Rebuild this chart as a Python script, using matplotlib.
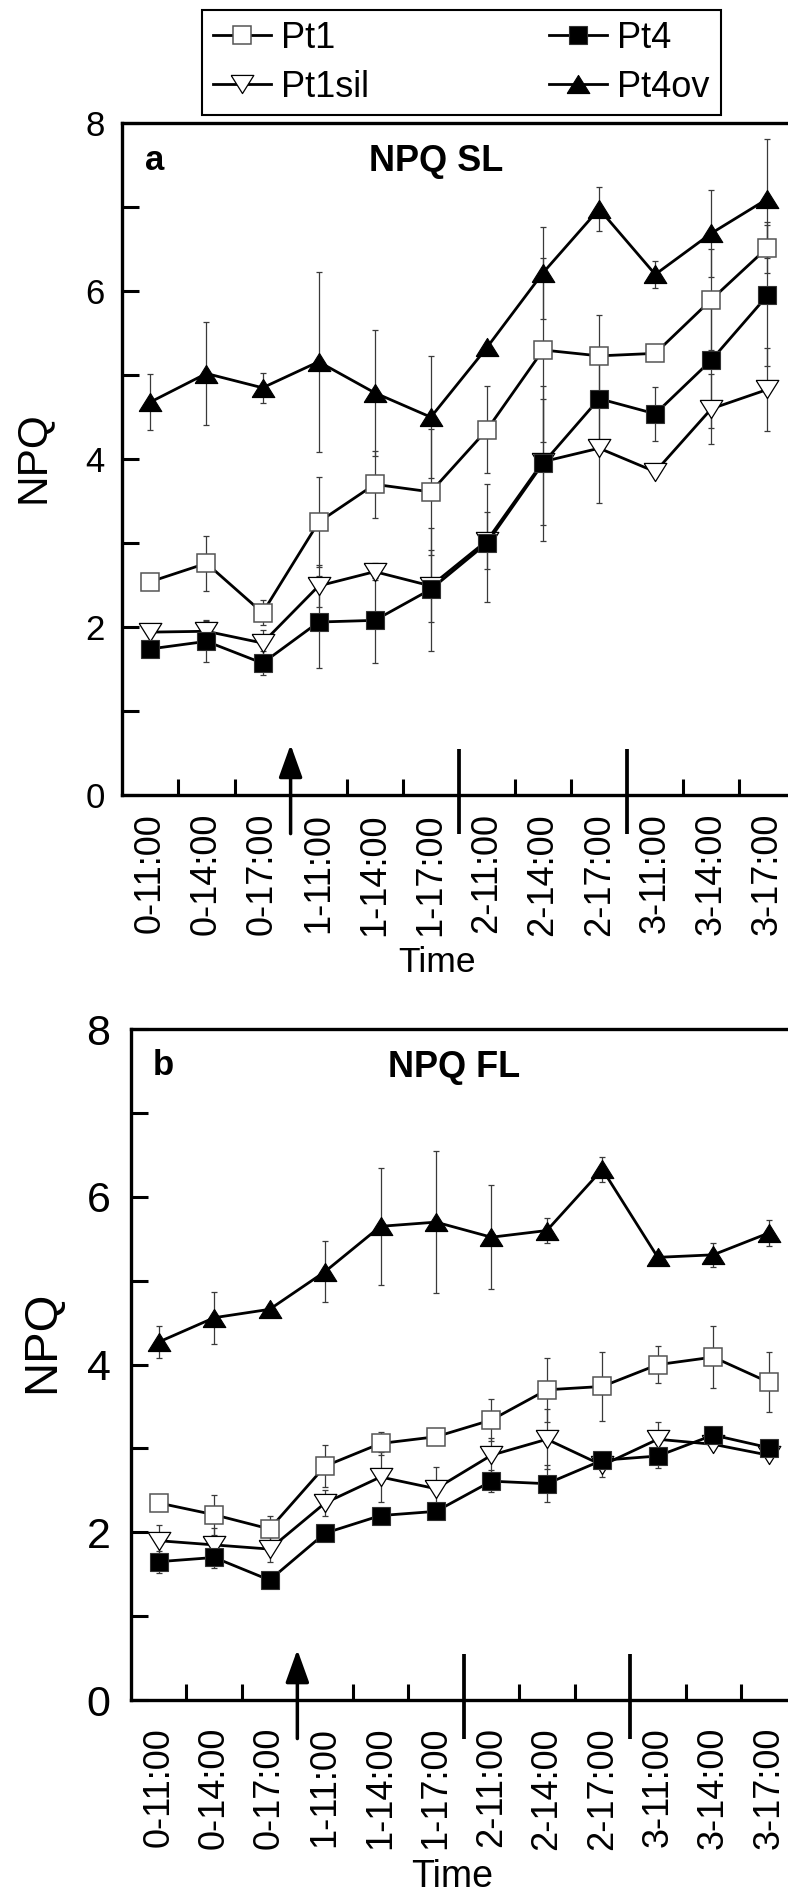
import matplotlib.pyplot as plt
import numpy as np

plt.rcParams['font.family'] = ['Liberation Sans', 'DejaVu Sans']

# sampling times (day-hour)
times = ['0-11:00', '0-14:00', '0-17:00', '1-11:00', '1-14:00', '1-17:00',
         '2-11:00', '2-14:00', '2-17:00', '3-11:00', '3-14:00', '3-17:00']
lines_names = ['Pt1', 'Pt1sil', 'Pt4', 'Pt4ov']

# panel a: NPQ SL
pt1_sl = [2.54, 2.76, 2.17, 3.25, 3.70, 3.61, 4.35, 5.30, 5.23, 5.26, 5.90, 6.52]
pt1_sl_err = [0.05, 0.33, 0.15, 0.54, 0.40, 0.75, 0.52, 1.10, 0.49, 0.05, 0.60, 0.30]
pt1sil_sl = [1.94, 1.95, 1.81, 2.49, 2.66, 2.49, 3.03, 3.97, 4.13, 3.85, 4.60, 4.83]
pt1sil_sl_err = [0.10, 0.12, 0.15, 0.25, 0.10, 0.43, 0.34, 0.75, 0.65, 0.05, 0.42, 0.49]
pt4_sl = [1.74, 1.83, 1.57, 2.06, 2.08, 2.45, 3.00, 3.95, 4.72, 4.54, 5.18, 5.95]
pt4_sl_err = [0.08, 0.25, 0.14, 0.55, 0.51, 0.73, 0.70, 0.92, 0.55, 0.32, 0.81, 0.84]
pt4ov_sl = [4.68, 5.02, 4.85, 5.16, 4.79, 4.50, 5.33, 6.22, 6.98, 6.20, 6.69, 7.10]
pt4ov_sl_err = [0.33, 0.61, 0.18, 1.07, 0.75, 0.73, 0.05, 0.55, 0.26, 0.16, 0.52, 0.71]

# panel b: NPQ FL
pt1_fl = [2.35, 2.21, 2.04, 2.79, 3.06, 3.14, 3.34, 3.70, 3.74, 4.00, 4.09, 3.79]
pt1_fl_err = [0.05, 0.24, 0.15, 0.25, 0.14, 0.05, 0.25, 0.38, 0.41, 0.22, 0.37, 0.36]
pt1sil_fl = [1.90, 1.85, 1.80, 2.35, 2.66, 2.52, 2.92, 3.11, 2.80, 3.11, 3.05, 2.92]
pt1sil_fl_err = [0.19, 0.20, 0.15, 0.15, 0.30, 0.26, 0.21, 0.36, 0.14, 0.21, 0.05, 0.05]
pt4_fl = [1.65, 1.70, 1.43, 1.99, 2.20, 2.25, 2.61, 2.58, 2.86, 2.91, 3.16, 3.01]
pt4_fl_err = [0.13, 0.13, 0.05, 0.05, 0.05, 0.05, 0.13, 0.22, 0.08, 0.14, 0.08, 0.08]
pt4ov_fl = [4.27, 4.56, 4.66, 5.11, 5.65, 5.70, 5.52, 5.60, 6.33, 5.28, 5.31, 5.57]
pt4ov_fl_err = [0.19, 0.31, 0.05, 0.36, 0.70, 0.85, 0.62, 0.15, 0.15, 0.05, 0.14, 0.15]

# marker shapes: wide closed triangles like the original
tri_up = [(-1, -0.8), (1, -0.8), (0, 0.8), (-1, -0.8)]
tri_down = [(-1, 0.8), (1, 0.8), (0, -0.8), (-1, 0.8)]
styles = [
    dict(marker='s', ms=13.5, mfc='white', mec='#555555', mew=1.1),
    dict(marker=tri_down, ms=16.3, mfc='white', mec='black', mew=0.9),
    dict(marker='s', ms=13.5, mfc='black', mec='#333333', mew=0.8),
    dict(marker=tri_up, ms=16.3, mfc='black', mec='black', mew=0.8),
]

W, H = 788, 1897
fig = plt.figure(figsize=(W / 100, H / 100), dpi=100)


def px_box(left, top, right, bottom):
    return [left / W, 1 - bottom / H, (right - left) / W, (bottom - top) / H]


def draw_panel(ax, data, errs, tag, title, tag_xy, title_xy, ytick_fs, ypad, xpad,
               ylab_fs, ylab_xy, xlab_fs, xlab_xy):
    x = np.arange(len(times))
    for y, e in zip(data, errs):
        ax.errorbar(x, y, yerr=e, fmt='none', ecolor='#3a3a3a', elinewidth=0.9,
                    capsize=2.5, capthick=0.9, zorder=2)
    handles = []
    for name, y, st in zip(lines_names, data, styles):
        h, = ax.plot(x, y, color='black', lw=2.0, label=name, zorder=3, **st)
        handles.append(h)

    ax.set_xlim(-0.5, 11.5)
    ax.set_ylim(0, 8)
    ax.set_xticks(x)
    ax.set_xticklabels(times, rotation=90, fontsize=26)
    ax.tick_params(axis='x', which='major', length=0, pad=xpad)
    ax.set_xticks([0.5, 1.5, 3.5, 4.5, 6.5, 7.5, 9.5, 10.5], minor=True)
    ax.tick_params(axis='x', which='minor', direction='in', length=11.5, width=2.2)
    ax.set_yticks([0, 2, 4, 6, 8])
    ax.set_yticks([1, 3, 5, 7], minor=True)
    ax.tick_params(axis='y', which='both', direction='in', length=12, width=2.2,
                   labelsize=ytick_fs, pad=ypad)
    for s in ['left', 'bottom', 'top']:
        ax.spines[s].set_linewidth(2.4)
    ax.spines['right'].set_visible(False)

    # day separators and light-shift arrow
    for xs in [5.5, 8.5]:
        ax.plot([xs, xs], [-0.46, 0.55], color='black', lw=2.7, clip_on=False,
                solid_capstyle='butt', zorder=4)
    ax.annotate('', xy=(2.5, 0.6), xytext=(2.5, -0.46), annotation_clip=False,
                arrowprops=dict(arrowstyle='-|>,head_length=1.0,head_width=0.36',
                                mutation_scale=20, lw=2.5, color='black',
                                shrinkA=0, shrinkB=0))

    ax.text(*tag_xy, tag, fontsize=25, fontweight='bold', ha='center', va='center')
    ax.text(*title_xy, title, fontsize=26, fontweight='bold', ha='center', va='center')

    ax.set_ylabel('NPQ', fontsize=ylab_fs, va='center')
    ax.yaxis.set_label_coords(*ylab_xy)
    ax.set_xlabel('Time', fontsize=xlab_fs, va='center')
    ax.xaxis.set_label_coords(*xlab_xy)
    return handles


ax_a = fig.add_axes(px_box(122.3, 123.3, 795.5, 795))
ax_b = fig.add_axes(px_box(131, 1029.3, 796.4, 1700))

handles = draw_panel(ax_a, [pt1_sl, pt1sil_sl, pt4_sl, pt4ov_sl],
                     [pt1_sl_err, pt1sil_sl_err, pt4_sl_err, pt4ov_sl_err],
                     'a', 'NPQ SL', (0.07, 7.56), (5.09, 7.54),
                     ytick_fs=25, ypad=12.5, xpad=13, ylab_fs=30.5,
                     ylab_xy=(-0.133, 0.503), xlab_fs=25.5, xlab_xy=(0.4675, -0.25))
draw_panel(ax_b, [pt1_fl, pt1sil_fl, pt4_fl, pt4ov_fl],
           [pt1_fl_err, pt1sil_fl_err, pt4_fl_err, pt4ov_fl_err],
           'b', 'NPQ FL', (0.08, 7.57), (5.33, 7.54),
           ytick_fs=31, ypad=14.8, xpad=19.4, ylab_fs=34,
           ylab_xy=(-0.134, 0.534), xlab_fs=27, xlab_xy=(0.4824, -0.264))

leg = fig.legend(handles, lines_names, loc='upper left', ncol=2,
                 bbox_to_anchor=(202 / W, 1 - 10 / H),
                 fontsize=26, frameon=True, fancybox=False, framealpha=1,
                 edgecolor='black', borderpad=0.3, labelspacing=0.38,
                 handlelength=1.6, handletextpad=0.28, columnspacing=5.0,
                 borderaxespad=0)
leg.get_frame().set_linewidth(1.5)

fig.savefig('out.png', dpi=100)
